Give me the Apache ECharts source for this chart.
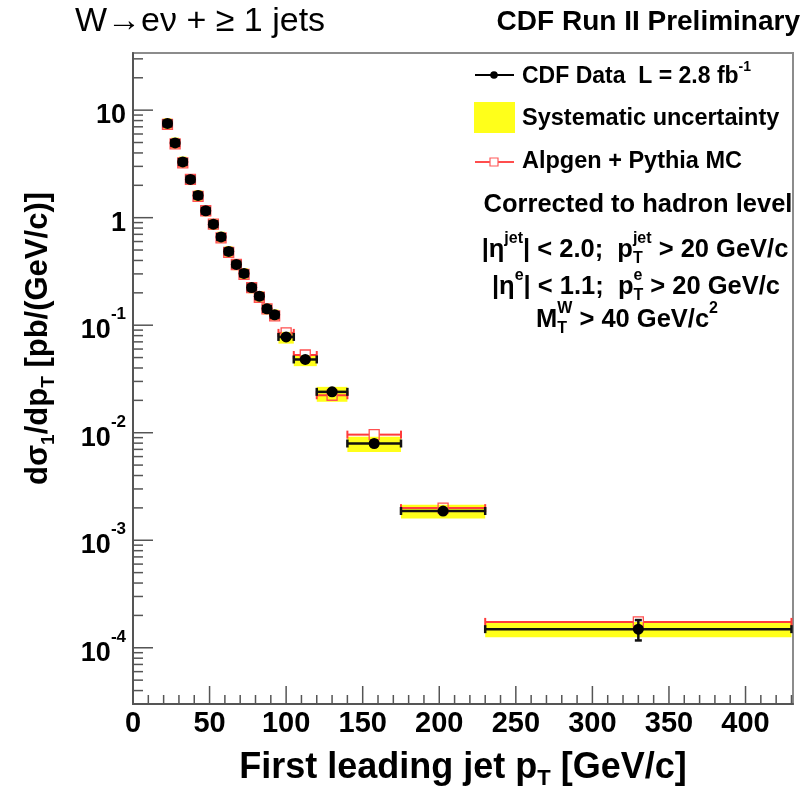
<!DOCTYPE html>
<html><head><meta charset="utf-8">
<script src="https://cdn.jsdelivr.net/npm/echarts@6/dist/echarts.min.js"></script>
<style>html,body{margin:0;padding:0;background:#fff}#c{width:804px;height:794px}</style>
</head><body><div id="c"></div>
<script>
// ---------------- data ----------------
const binLow    = [20,25,30,35,40,45,50,55,60,65,70,75,80,85,90,95,105,120,140,175,230];
const binHigh   = [25,30,35,40,45,50,55,60,65,70,75,80,85,90,95,105,120,140,175,230,430];
const binCenter = [22.5,27.5,32.5,37.5,42.5,47.5,52.5,57.5,62.5,67.5,72.5,77.5,82.5,87.5,92.5,100,112.5,130,157.5,202.5,330];
const dataXsec  = [7.52,4.96,3.30,2.27,1.61,1.16,0.870,0.662,0.485,0.367,0.303,0.224,0.186,0.142,0.125,0.0778,0.048,0.024,0.00794,0.00187,0.000149];
const statErr   = [0.05,0.04,0.03,0.02,0.016,0.013,0.011,0.009,0.007,0.006,0.005,0.004,0.0035,0.003,0.0028,0.0015,0.001,0.0006,0.0003,0.0001,0.000032];
const sysHigh   = [8.42,5.56,3.70,2.54,1.80,1.30,0.974,0.741,0.543,0.411,0.339,0.251,0.208,0.159,0.140,0.0866,0.0526,0.0267,0.00915,0.00214,0.000174];
const sysLow    = [6.65,4.39,2.92,2.01,1.42,1.03,0.770,0.586,0.429,0.325,0.268,0.198,0.165,0.126,0.111,0.0674,0.0416,0.0194,0.00663,0.00159,0.000125];
const mcXsec    = [7.36,4.85,3.23,2.27,1.58,1.16,0.870,0.648,0.475,0.367,0.297,0.224,0.182,0.142,0.122,0.0848,0.0528,0.0223,0.0096,0.00199,0.000174];
const xTickLabels = [0,50,100,150,200,250,300,350,400];
const yTickLabels = [1e-4,1e-3,1e-2,1e-1,1,10];
const xMin = 0, xMax = 431, yMin = 3e-5, yMax = 34;

// ---------------- helpers ----------------
const FONT = "'Liberation Sans', Arial, Helvetica, sans-serif";
const mctx = document.createElement('canvas').getContext('2d');
function tw(t, size, weight){ mctx.font = weight + ' ' + size + 'px ' + FONT; return mctx.measureText(t).width; }
function textEl(t, x, y, size, weight){
  return {type:'text', x:x, y:y, silent:true, z:100,
    style:{text:t, font: weight + ' ' + size + 'px ' + FONT, fill:'#000',
      textAlign:'left', align:'left', textVerticalAlign:'middle', verticalAlign:'middle'}};
}
function buildLine(segs, x, y, align, size, weight){
  const small = Math.round(size*0.62);
  let total = 0;
  const items = segs.map(s => {
    let w;
    if (s.k === 'n') w = tw(s.t, size, weight);
    else if (s.k === 'stack') w = Math.max(tw(s.t, small, weight), tw(s.b, small, weight));
    else w = tw(s.t, small, weight);
    total += w;
    return Object.assign({w:w}, s);
  });
  let cx = align === 'center' ? x - total/2 : (align === 'right' ? x - total : x);
  const out = [];
  items.forEach(it => {
    if (it.k === 'n') out.push(textEl(it.t, cx, y, size, weight));
    else if (it.k === 'sup') out.push(textEl(it.t, cx, y - size*0.45, small, weight));
    else if (it.k === 'sub') out.push(textEl(it.t, cx, y + size*0.32, small, weight));
    else { out.push(textEl(it.t, cx, y - size*0.45, small, weight)); out.push(textEl(it.b, cx, y + size*0.32, small, weight)); }
    cx += it.w;
  });
  return out;
}

// ---------------- series data ----------------
const sysData = binLow.map((lo,i) => [lo, binHigh[i], sysLow[i], sysHigh[i]]);
const mcData = binLow.map((lo,i) => [binCenter[i], mcXsec[i], lo, binHigh[i]]);
const cdfData = binLow.map((lo,i) => [binCenter[i], dataXsec[i], lo, binHigh[i], statErr[i]]);

const tickData = [];
xTickLabels.forEach(v => tickData.push([v, yMin, 0, 18]));
for (let v = 10; v < xMax; v += 10) if (v % 50 !== 0) tickData.push([v, yMin, 0, 9]);
yTickLabels.forEach(v => tickData.push([xMin, v, 1, 20]));
for (let e = -5; e <= 1; e++) for (let m = 2; m <= 9; m++) {
  const v = m * Math.pow(10, e);
  if (v >= yMin && v <= yMax) tickData.push([xMin, v, 1, 10]);
}

const chart = echarts.init(document.getElementById('c'), null, {renderer:'canvas'});

const graphics = [];
graphics.push(...buildLine([{k:'n', t:'W\u2192e\u03bd + \u2265 1 jets'}], 75, 22, 'left', 34, 'normal'));
graphics.push(...buildLine([{k:'n', t:'CDF Run II Preliminary'}], 800, 22, 'right', 28, 'bold'));
// legend markers
graphics.push({type:'line', silent:true, shape:{x1:475,y1:75,x2:514,y2:75}, style:{stroke:'#000', lineWidth:2}});
graphics.push({type:'circle', silent:true, shape:{cx:494, cy:75, r:3.8}, style:{fill:'#000'}});
graphics.push({type:'rect', silent:true, shape:{x:474, y:102, width:41, height:31}, style:{fill:'#ffff1a'}});
graphics.push({type:'line', silent:true, shape:{x1:475,y1:162,x2:490,y2:162}, style:{stroke:'#ff4d4d', lineWidth:2}});
graphics.push({type:'line', silent:true, shape:{x1:498,y1:162,x2:514,y2:162}, style:{stroke:'#ff4d4d', lineWidth:2}});
graphics.push({type:'rect', silent:true, shape:{x:490, y:158, width:8, height:8}, style:{fill:'none', stroke:'#ff5a5a', lineWidth:1.2}});
graphics.push(...buildLine([{k:'n', t:'CDF Data  L = 2.8 fb'}, {k:'sup', t:'-1'}], 522, 77, 'left', 23, 'bold'));
graphics.push(...buildLine([{k:'n', t:'Systematic uncertainty'}], 522, 119, 'left', 23.5, 'bold'));
graphics.push(...buildLine([{k:'n', t:'Alpgen + Pythia MC'}], 522, 162, 'left', 23.5, 'bold'));
graphics.push(...buildLine([{k:'n', t:'Corrected to hadron level'}], 638, 205, 'center', 25.5, 'bold'));
graphics.push(...buildLine([{k:'n', t:'|\u03b7'}, {k:'sup', t:'jet'}, {k:'n', t:'| < 2.0;  p'}, {k:'stack', t:'jet', b:'T'}, {k:'n', t:' > 20 GeV/c'}], 635, 250, 'center', 25.5, 'bold'));
graphics.push(...buildLine([{k:'n', t:'|\u03b7'}, {k:'sup', t:'e'}, {k:'n', t:'| < 1.1;  p'}, {k:'stack', t:'e', b:'T'}, {k:'n', t:' > 20 GeV/c'}], 636, 287, 'center', 25.5, 'bold'));
graphics.push(...buildLine([{k:'n', t:'M'}, {k:'stack', t:'W', b:'T'}, {k:'n', t:' > 40 GeV/c'}, {k:'sup', t:'2'}], 627, 320, 'center', 25.5, 'bold'));

const xNameRich = {
  n: {fontSize:36, fontWeight:'bold', fontFamily:FONT, color:'#000', lineHeight:36, verticalAlign:'middle'},
  sub: {fontSize:22, fontWeight:'bold', fontFamily:FONT, color:'#000', lineHeight:22, padding:[18,0,0,0], verticalAlign:'top'}
};
const yNameRich = {
  n: {fontSize:31, fontWeight:'bold', fontFamily:FONT, color:'#000', lineHeight:31, verticalAlign:'middle'},
  sub: {fontSize:19, fontWeight:'bold', fontFamily:FONT, color:'#000', lineHeight:19, padding:[16,0,0,0], verticalAlign:'top'}
};

const option = {
  animation: false,
  backgroundColor: '#fff',
  graphic: {elements: graphics},
  grid: {left:133, top:53, width:660, height:651, show:true, borderColor:'#8c8c8c', borderWidth:2, backgroundColor:'transparent', containLabel:false, outerBoundsMode:'none'},
  xAxis: {
    type:'value', min:xMin, max:xMax, interval:50,
    axisLine:{show:true, onZero:false, lineStyle:{color:'#555', width:2}},
    axisTick:{show:false}, splitLine:{show:false},
    axisLabel:{formatter: v => (xTickLabels.indexOf(v) >= 0 ? String(v) : ''), fontFamily:FONT, fontWeight:'bold', fontSize:29, color:'#000', margin:5},
    name:'{n|First leading jet p}{sub|T}{n| [GeV/c]}', nameLocation:'middle', nameGap:46,
    nameTextStyle:{fontFamily:FONT, fontWeight:'bold', fontSize:36, color:'#000', rich:xNameRich}
  },
  yAxis: {
    type:'log', logBase:10, min:yMin, max:yMax,
    axisLine:{show:true, onZero:false, lineStyle:{color:'#555', width:2}},
    axisTick:{show:false}, splitLine:{show:false}, minorTick:{show:false},
    axisLabel:{
      formatter: function(v){
        const e = Math.round(Math.log10(v));
        if (Math.abs(Math.log10(v) - e) > 1e-6 || yTickLabels.indexOf(Math.pow(10,e)) < 0) return '';
        if (e === 1) return '{b|10}';
        if (e === 0) return '{b|1}';
        return '{b|10}{s|' + e + '}';
      },
      margin:7, padding:[0,0,11,0],
      rich:{
        b:{fontSize:27, fontWeight:'bold', fontFamily:FONT, color:'#000', lineHeight:27, padding:[11,0,0,0], verticalAlign:'top'},
        s:{fontSize:17, fontWeight:'bold', fontFamily:FONT, color:'#000', lineHeight:17, verticalAlign:'top'}
      }
    },
    name:'{n|d\u03c3}{sub|1}{n|/dp}{sub|T}{n| [pb/(GeV/c)]}', nameLocation:'middle', nameGap:79, nameRotate:90,
    nameTextStyle:{fontFamily:FONT, fontWeight:'bold', fontSize:31, color:'#000', padding:[0,0,0,80], rich:yNameRich}
  },
  series: [
    { // systematic uncertainty boxes
      type:'custom', name:'Systematic uncertainty', data:sysData, encode:{x:[0,1], y:[2,3]}, z:1,
      renderItem: function(params, api){
        const p1 = api.coord([api.value(0), api.value(3)]);
        const p2 = api.coord([api.value(1), api.value(2)]);
        return {type:'rect', shape:{x:p1[0], y:p1[1], width:p2[0]-p1[0], height:p2[1]-p1[1]}, style:{fill:'#ffff1a'}};
      }
    },
    { // MC
      type:'custom', name:'Alpgen + Pythia MC', data:mcData, encode:{x:0, y:1}, z:2,
      renderItem: function(params, api){
        const c = api.coord([api.value(0), api.value(1)]);
        const l = api.coord([api.value(2), api.value(1)]);
        const r = api.coord([api.value(3), api.value(1)]);
        const h = 5, col = '#ff3b3b';
        const ch = [];
        if (c[0]-h > l[0]) ch.push({type:'line', shape:{x1:l[0], y1:c[1], x2:c[0]-h, y2:c[1]}, style:{stroke:col, lineWidth:2}});
        if (r[0] > c[0]+h) ch.push({type:'line', shape:{x1:c[0]+h, y1:c[1], x2:r[0], y2:c[1]}, style:{stroke:col, lineWidth:2}});
        ch.push({type:'line', shape:{x1:l[0], y1:c[1]-4, x2:l[0], y2:c[1]+4}, style:{stroke:col, lineWidth:2}});
        ch.push({type:'line', shape:{x1:r[0], y1:c[1]-4, x2:r[0], y2:c[1]+4}, style:{stroke:col, lineWidth:2}});
        ch.push({type:'rect', shape:{x:c[0]-h, y:c[1]-h, width:2*h, height:2*h}, style:{fill:'none', stroke:'#ff5050', lineWidth:1.3}});
        return {type:'group', children:ch};
      }
    },
    { // CDF data
      type:'custom', name:'CDF Data', data:cdfData, encode:{x:0, y:1}, z:3,
      renderItem: function(params, api){
        const v = api.value(1), e = api.value(4);
        const c = api.coord([api.value(0), v]);
        const l = api.coord([api.value(2), v]);
        const r = api.coord([api.value(3), v]);
        const t = api.coord([api.value(0), v + e]);
        const b = api.coord([api.value(0), v - e]);
        const col = '#111';
        const ch = [
          {type:'line', shape:{x1:l[0], y1:c[1], x2:r[0], y2:c[1]}, style:{stroke:col, lineWidth:2.5}},
          {type:'line', shape:{x1:l[0], y1:c[1]-4, x2:l[0], y2:c[1]+4}, style:{stroke:col, lineWidth:2.5}},
          {type:'line', shape:{x1:r[0], y1:c[1]-4, x2:r[0], y2:c[1]+4}, style:{stroke:col, lineWidth:2.5}},
          {type:'line', shape:{x1:c[0], y1:t[1], x2:c[0], y2:b[1]}, style:{stroke:col, lineWidth:2.5}}
        ];
        if (c[1]-t[1] > 6) {
          ch.push({type:'line', shape:{x1:c[0]-3.5, y1:t[1], x2:c[0]+3.5, y2:t[1]}, style:{stroke:col, lineWidth:2.5}});
          ch.push({type:'line', shape:{x1:c[0]-3.5, y1:b[1], x2:c[0]+3.5, y2:b[1]}, style:{stroke:col, lineWidth:2.5}});
        }
        ch.push({type:'circle', shape:{cx:c[0], cy:c[1], r:5.5}, style:{fill:'#000'}});
        return {type:'group', children:ch};
      }
    },
    { // axis ticks (ROOT style, inside)
      type:'custom', name:'ticks', data:tickData, z:5, silent:true, clip:false,
      renderItem: function(params, api){
        const p = api.coord([api.value(0), api.value(1)]);
        const len = api.value(3);
        if (api.value(2) === 0)
          return {type:'line', shape:{x1:p[0], y1:p[1], x2:p[0], y2:p[1]-len}, style:{stroke:'#555', lineWidth:1.5}};
        return {type:'line', shape:{x1:p[0], y1:p[1], x2:p[0]+len, y2:p[1]}, style:{stroke:'#555', lineWidth:1.5}};
      }
    }
  ]
};
chart.setOption(option);
</script>
</body></html>
